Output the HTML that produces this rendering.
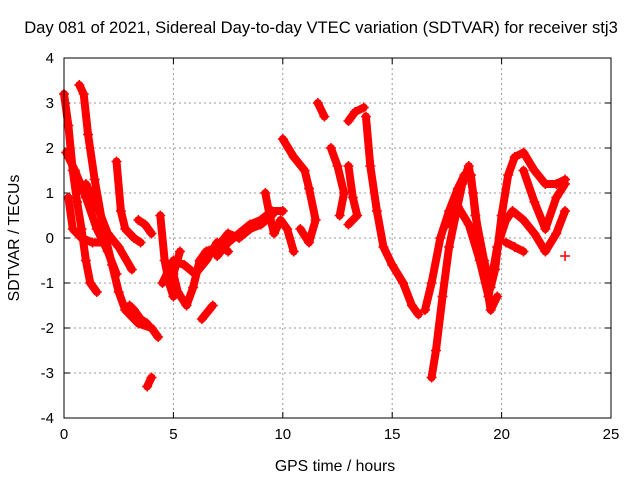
<!DOCTYPE html>
<html><head><meta charset="utf-8"><style>
body{margin:0;background:#fff;}
svg{display:block;font-family:"Liberation Sans",Arial,sans-serif;}
</style></head><body>
<svg id="chart" width="640" height="480">
<text x="321" y="33" text-anchor="middle" font-size="16.6">Day 081 of 2021, Sidereal Day-to-day VTEC variation (SDTVAR) for receiver stj3</text>
<text x="335" y="471" text-anchor="middle" font-size="15.8">GPS time / hours</text>
<text transform="translate(19,238) rotate(-90)" text-anchor="middle" font-size="15.8">SDTVAR / TECUs</text>
<g id="grid"></g><g id="ticks"></g><g id="marks"></g>
<rect x="64" y="58" width="547" height="360" fill="none" stroke="#000" stroke-width="1"/>
</svg>
<script>
const xTicks=[0,5,10,15,20,25];
const yTicks=[-4,-3,-2,-1,0,1,2,3,4];
const tracks=[
[[0.0,3.2],[0.2,2.5],[0.4,1.5],[0.6,0.8],[0.8,0.2],[1.0,-0.5],[1.2,-1.0],[1.5,-1.2]],
[[0.7,3.4],[0.9,3.2],[1.1,2.3],[1.4,1.3],[1.8,0.2],[2.2,-0.6],[2.5,-1.2],[2.8,-1.6],[3.4,-1.9],[4.0,-2.0],[4.3,-2.2]],
[[0.1,1.9],[0.5,1.5],[1.0,0.9],[1.5,0.2],[2.0,-0.3],[2.4,-0.8]],
[[0.2,0.9],[0.4,0.2],[0.8,0.0],[1.3,-0.1],[1.8,-0.1]],
[[1.0,1.2],[1.6,0.6],[2.0,0.1],[2.5,-0.2],[3.1,-0.7]],
[[2.4,1.7],[2.6,0.6],[2.8,0.2],[3.2,0.0],[3.5,-0.1]],
[[3.4,0.4],[3.7,0.3],[4.0,0.1]],
[[3.0,-1.5],[3.2,-1.6],[3.5,-1.8],[3.8,-1.9]],
[[3.8,-3.3],[4.0,-3.1]],
[[4.4,0.5],[4.6,-0.5],[4.8,-1.0],[5.0,-1.3]],
[[5.3,-0.3],[5.0,-0.8],[5.2,-1.2],[5.6,-1.5],[5.9,-1.1],[6.2,-0.5],[6.5,-0.3],[7.0,-0.2],[7.5,0.1],[8.0,0.0],[8.5,0.2],[9.0,0.3],[9.5,0.5]],
[[4.5,-1.0],[5.0,-0.5],[5.5,-0.6],[6.0,-0.8],[6.5,-0.5],[7.0,-0.1],[7.5,-0.3]],
[[6.3,-1.8],[6.8,-1.5]],
[[7.0,-0.4],[7.5,-0.1],[8.0,0.1],[8.5,0.3],[9.0,0.4],[9.5,0.6],[10.0,0.6]],
[[9.2,1.0],[9.4,0.5],[9.6,0.1],[9.9,0.4],[10.2,0.2],[10.5,-0.3]],
[[10.0,2.2],[10.5,1.8],[11.0,1.5],[11.2,1.1],[11.5,0.4],[11.2,-0.1],[10.8,0.2]],
[[11.6,3.0],[11.9,2.7]],
[[12.2,2.0],[12.5,1.6],[12.8,1.0],[12.6,0.5]],
[[13.0,2.6],[13.3,2.8],[13.7,2.9]],
[[13.0,1.6],[13.2,0.9],[13.4,0.5],[13.0,0.3]],
[[13.8,2.7],[14.0,1.6],[14.3,0.6],[14.6,-0.2],[15.0,-0.6],[15.5,-1.0],[15.9,-1.5],[16.2,-1.7]],
[[16.5,-1.6],[16.8,-1.0],[17.2,0.0],[17.6,0.6],[18.0,1.1],[18.3,1.4],[18.6,1.4],[18.8,0.5],[19.2,-0.5],[19.5,-1.1],[19.7,-0.7],[20.0,0.5],[20.3,1.4],[20.6,1.8],[21.0,1.9],[21.5,1.5],[22.0,1.2],[22.5,1.2],[22.9,1.3]],
[[16.8,-3.1],[17.0,-2.5],[17.3,-1.3],[17.6,-0.2],[17.9,0.5],[18.2,1.2],[18.5,1.6],[18.7,1.0],[19.0,-0.2],[19.3,-1.0],[19.5,-1.6],[19.8,-1.3]],
[[17.5,0.3],[18.0,0.7],[18.5,0.3],[19.0,-0.5],[19.4,-1.3],[19.8,-0.2],[20.2,0.4],[20.5,0.6],[21.0,0.4],[21.5,0.1],[22.0,-0.3],[22.5,0.1],[22.9,0.6]],
[[21.0,1.5],[21.5,0.8],[22.0,0.2],[22.5,0.9],[22.9,1.2]],
[[20.2,-0.1],[20.6,-0.2],[21.0,-0.3]],
[[22.9,-0.4]]
];
const NS="http://www.w3.org/2000/svg";
const X0=64,X1=611,Y0=418,Y1=58;
function sx(t){return X0+(t-0)/(25-0)*(X1-X0);}
function sy(v){return Y0-(v+4)/8*(Y0-Y1);}
function mk(tag,a,parent){const e=document.createElementNS(NS,tag);for(const k in a)e.setAttribute(k,a[k]);parent.appendChild(e);return e;}
const grid=document.getElementById('grid'),ticks=document.getElementById('ticks'),marks=document.getElementById('marks');
xTicks.forEach(t=>{
  const x=sx(t);
  if(t>0&&t<25){const g=mk('line',{x1:x,x2:x,y1:Y1,y2:Y0,stroke:'#999','stroke-dasharray':'2,3'},grid);
  
  }
  mk('line',{x1:x,x2:x,y1:Y0,y2:Y0-6,stroke:'#000'},ticks);
  mk('line',{x1:x,x2:x,y1:Y1,y2:Y1+6,stroke:'#000'},ticks);
  const l=mk('text',{x:x,y:Y0+21,'text-anchor':'middle','font-size':15},ticks);l.textContent=t;
  
  
});
yTicks.forEach(v=>{
  const y=sy(v);
  if(v>-4&&v<4){const g=mk('line',{x1:X0,x2:X1,y1:y,y2:y,stroke:'#999','stroke-dasharray':'2,3'},grid);
  
  }
  mk('line',{x1:X0,x2:X0+6,y1:y,y2:y,stroke:'#000'},ticks);
  mk('line',{x1:X1,x2:X1-6,y1:y,y2:y,stroke:'#000'},ticks);
  const l=mk('text',{x:X0-10,y:y+5,'text-anchor':'end','font-size':15},ticks);l.textContent=v;
  
  
});
tracks.forEach(tr=>{
  const pts=tr.map(p=>sx(p[0])+','+sy(p[1])).join(' ');
  const pl=mk('polyline',{points:pts,fill:'none',stroke:'#f00','stroke-width':8,'stroke-linejoin':'round','stroke-linecap':'round'},marks);
  
  
  tr.forEach(p=>{
    const x=sx(p[0]),y=sy(p[1]);
    const m=mk('path',{d:`M${x-5},${y}H${x+5}M${x},${y-5}V${y+5}`,stroke:'#f00','stroke-width':1.5},marks);
    
    
  });
});
</script>
</body></html>
